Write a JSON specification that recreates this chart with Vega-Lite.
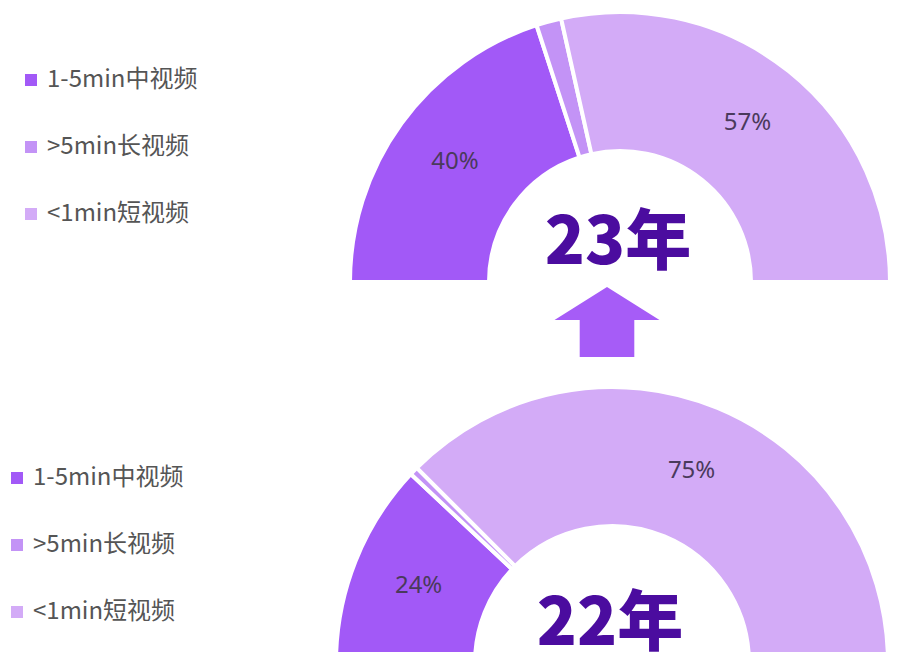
{
  "$schema": "https://vega.github.io/schema/vega-lite/v6.json",
  "width": 900,
  "height": 652,
  "padding": 0,
  "autosize": {"type": "none"},
  "background": "white",
  "config": {"view": {"stroke": null}, "font": "Noto Sans CJK SC"},
  "data": {
    "values": [
      {"year": "23年", "category": "1-5min中视频", "pct": 40, "label": "40%"},
      {"year": "23年", "category": ">5min长视频", "pct": 3, "label": "3%"},
      {"year": "23年", "category": "<1min短视频", "pct": 57, "label": "57%"},
      {"year": "22年", "category": "1-5min中视频", "pct": 24, "label": "24%"},
      {"year": "22年", "category": ">5min长视频", "pct": 1, "label": "1%"},
      {"year": "22年", "category": "<1min短视频", "pct": 75, "label": "75%"}
    ]
  },
  "transform": [
    {"stack": "pct", "groupby": ["year"], "offset": "normalize", "as": ["t0", "t1"]}
  ],
  "encoding": {
    "x": {"field": "year", "type": "ordinal", "scale": {"type": "point", "domain": ["23年", "22年"], "range": [620, 612], "padding": 0}, "axis": null},
    "y": {"field": "year", "type": "ordinal", "scale": {"type": "point", "domain": ["23年", "22年"], "range": [282, 663], "padding": 0}, "axis": null}
  },
  "layer": [
    {
      "transform": [{"filter": "datum.year === '23年'"}],
      "mark": {"type": "arc", "radius": 270, "radius2": 131, "stroke": "#ffffff", "strokeWidth": 4},
      "encoding": {
        "theta": {"field": "t0", "type": "quantitative", "scale": {"domain": [0, 1], "range": [-1.5708, 1.5708]}},
        "theta2": {"field": "t1"},
        "color": {
          "field": "category", "type": "nominal",
          "scale": {"domain": ["1-5min中视频", ">5min长视频", "<1min短视频"], "range": ["#A259F7", "#C393F6", "#D3ABF7"]},
          "legend": {"orient": "none", "legendX": 19, "legendY": 68, "title": null, "padding": 0, "symbolType": "square", "symbolSize": 144, "symbolStrokeWidth": 0, "labelFontSize": 24, "labelColor": "#555555", "labelFont": "Noto Sans CJK SC", "rowPadding": 43, "labelOffset": 4}
        }
      }
    },
    {
      "transform": [{"filter": "datum.year === '22年'"}],
      "mark": {"type": "arc", "radius": 276, "radius2": 137, "stroke": "#ffffff", "strokeWidth": 4},
      "encoding": {
        "theta": {"field": "t0", "type": "quantitative", "scale": {"domain": [0, 1], "range": [-1.5708, 1.5708]}},
        "theta2": {"field": "t1"},
        "color": {
          "field": "category", "type": "nominal",
          "scale": {"domain": ["1-5min中视频", ">5min长视频", "<1min短视频"], "range": ["#A259F7", "#C393F6", "#D3ABF7"]},
          "legend": {"orient": "none", "legendX": 5, "legendY": 466, "title": null, "padding": 0, "symbolType": "square", "symbolSize": 144, "symbolStrokeWidth": 0, "labelFontSize": 24, "labelColor": "#555555", "labelFont": "Noto Sans CJK SC", "rowPadding": 43, "labelOffset": 4}
        }
      }
    },
    {
      "transform": [{"filter": "datum.year === '23年'"}],
      "mark": {"type": "text", "radius": 204, "fontSize": 24, "color": "#4A3A5C", "font": "Noto Sans", "baseline": "middle", "align": "center"},
      "encoding": {
        "theta": {"field": "pct", "type": "quantitative", "stack": "normalize", "scale": {"domain": [0, 1], "range": [-1.5708, 1.5708]}},
        "order": {"field": "t0", "type": "quantitative"},
        "text": {"field": "label"},
        "opacity": {"condition": {"test": "datum.pct < 5", "value": 0}, "value": 1}
      }
    },
    {
      "transform": [{"filter": "datum.year === '22年'"}],
      "mark": {"type": "text", "radius": 208, "fontSize": 24, "color": "#4A3A5C", "font": "Noto Sans", "baseline": "middle", "align": "center"},
      "encoding": {
        "theta": {"field": "pct", "type": "quantitative", "stack": "normalize", "scale": {"domain": [0, 1], "range": [-1.5708, 1.5708]}},
        "order": {"field": "t0", "type": "quantitative"},
        "text": {"field": "label"},
        "opacity": {"condition": {"test": "datum.pct < 5", "value": 0}, "value": 1}
      }
    },
    {
      "transform": [{"filter": "datum.category === '1-5min中视频'"}],
      "mark": {"type": "text", "fontSize": 66, "fontWeight": 900, "color": "#4B0C9F", "baseline": "alphabetic", "align": "center", "dy": -18, "dx": -2},
      "encoding": {"text": {"field": "year"}}
    },
    {
      "transform": [{"filter": "datum.category === '1-5min中视频' && datum.year === '23年'"}],
      "mark": {"type": "point", "shape": "M0,-0.667 L1,-0.04 L0.52,-0.04 L0.52,0.667 L-0.52,0.667 L-0.52,-0.04 L-1,-0.04 Z", "filled": true, "size": 11025, "color": "#A65CF7", "opacity": 1, "strokeWidth": 0, "xOffset": -13, "yOffset": 40},
      "encoding": {}
    }
  ],
  "resolve": {"scale": {"color": "independent"}}
}
